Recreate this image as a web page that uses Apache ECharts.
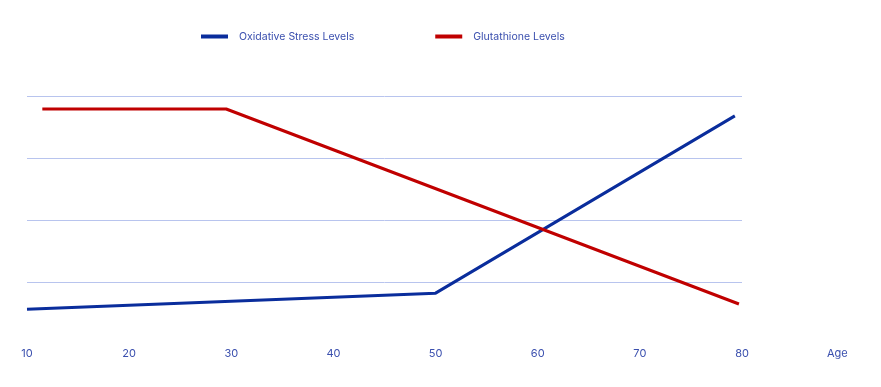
<!DOCTYPE html>
<html><head><meta charset="utf-8">
<script src="https://cdn.jsdelivr.net/npm/echarts@6/dist/echarts.min.js"></script>
<style>html,body{margin:0;padding:0;background:#fff}#c{width:881px;height:387px}</style>
</head><body><div id="c"></div>
<script>
const xTicks = [10, 20, 30, 40, 50, 60, 70, 80];
const oxidativeAge = [10, 50, 79.3];
const oxidativeVal = [0.56, 0.82, 3.68];
const glutathioneAge = [11.5, 29.5, 79.7];
const glutathioneVal = [3.79, 3.79, 0.645];
const seriesNames = ['Oxidative Stress Levels', 'Glutathione Levels'];

const chart = echarts.init(document.getElementById('c'));
const txt = '#3a4fae';
chart.setOption({
  animation: false,
  textStyle: {fontFamily: 'Inter'},
  legend: {
    top: 26, left: 196, itemGap: 81, itemWidth: 27, itemHeight: 4, icon: 'rect',
    textStyle: {color: txt, fontSize: 10.5, fontFamily: 'Inter', padding: [0, 0, 0, 6]},
    data: seriesNames
  },
  grid: {left: 27, right: 139, top: 96, bottom: 43},
  xAxis: {
    type: 'value', min: xTicks[0], max: xTicks[xTicks.length - 1], interval: 10,
    name: 'Age', nameLocation: 'end', nameGap: 85,
    nameTextStyle: {color: txt, fontSize: 11, verticalAlign: 'top', padding: [4, 0, 0, 0]},
    axisLine: {show: false}, axisTick: {show: false}, splitLine: {show: false},
    axisLabel: {color: txt, fontSize: 11, margin: 4}
  },
  yAxis: {
    type: 'value', min: 0, max: 4, interval: 1,
    axisLine: {show: false}, axisTick: {show: false}, axisLabel: {show: false},
    splitLine: {lineStyle: {color: ['rgba(0,0,0,0)', '#b8c4ee', '#b8c4ee', '#b8c4ee', '#b8c4ee'], width: 1}}
  },
  series: [
    {name: seriesNames[0], type: 'line', showSymbol: false, color: '#0a2d9c',
     lineStyle: {width: 3, color: '#0a2d9c'},
     data: oxidativeAge.map((a, i) => [a, oxidativeVal[i]])},
    {name: seriesNames[1], type: 'line', showSymbol: false, color: '#c00000',
     lineStyle: {width: 3, color: '#c00000'},
     data: glutathioneAge.map((a, i) => [a, glutathioneVal[i]])}
  ]
});
</script></body></html>
